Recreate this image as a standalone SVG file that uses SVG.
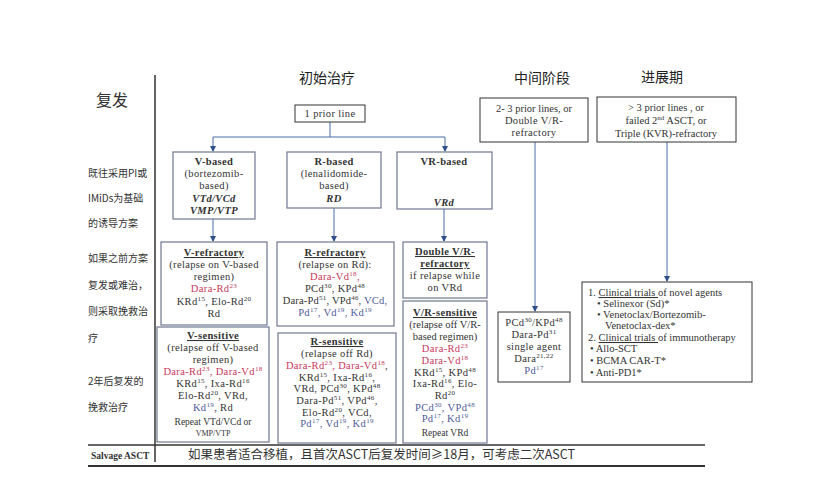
<svg xmlns="http://www.w3.org/2000/svg" width="836" height="485" viewBox="0 0 836 485">
<style>
.t{font-family:"Liberation Serif",serif;font-size:10.5px;fill:#333;text-anchor:middle;letter-spacing:0.35px}
.tl{font-family:"Liberation Serif",serif;font-size:10.5px;fill:#333}
.h{font-family:"Noto Sans CJK SC",sans-serif;font-size:14px;fill:#222;text-anchor:middle}
.lbl{font-family:"Noto Sans CJK SC",sans-serif;font-size:10px;fill:#333}
.b{font-weight:bold}
.u{font-weight:bold;text-decoration:underline}
.ul{text-decoration:underline}
.bi{font-weight:bold;font-style:italic}
.r{fill:#c8395c}
.bl{fill:#4f5b98}
.sup{font-size:7px;baseline-shift:super}
.box{fill:#fff;stroke:#6f7891;stroke-width:1.2}
.box2{fill:#fff;stroke:#333;stroke-width:1}
.conn{stroke:#4a6fa5;stroke-width:1;fill:none}
.frame{stroke:#333;fill:none}
</style>
<defs>
<marker id="arr" viewBox="0 0 6 6" refX="5" refY="3" markerWidth="6" markerHeight="6" markerUnits="userSpaceOnUse" orient="auto">
<path d="M0,0 L6,3 L0,6 z" fill="#2f4f8a"/>
</marker>
</defs>
<rect width="836" height="485" fill="#fff"/>

<g id="frame">
<line class="frame" x1="155" y1="75" x2="155" y2="462" stroke-width="1.5"/>
<line class="frame" x1="88" y1="445" x2="705" y2="445" stroke-width="1.5"/>
<line class="frame" x1="88" y1="466" x2="705" y2="466" stroke-width="2" stroke="#555"/>
</g>

<g id="row-labels">
<text class="lbl" x="96" y="106" style="font-size:16px">复发</text>
<text class="lbl" x="88" y="177">既往采用PI或</text>
<text class="lbl" x="88" y="202">IMiDs为基础</text>
<text class="lbl" x="88" y="227">的诱导方案</text>
<text class="lbl" x="88" y="262">如果之前方案</text>
<text class="lbl" x="88" y="289">复发或难治，</text>
<text class="lbl" x="88" y="315">则采取挽救治</text>
<text class="lbl" x="88" y="342">疗</text>
<text class="lbl" x="88" y="385">2年后复发的</text>
<text class="lbl" x="88" y="411">挽救治疗</text>
<text class="tl b" x="91" y="459" style="font-size:9.5px">Salvage ASCT</text>
</g>

<g id="headers">
<text class="h" x="327" y="83">初始治疗</text>
<text class="h" x="542" y="83">中间阶段</text>
<text class="h" x="662" y="82">进展期</text>
</g>

<g id="connectors">
<path class="conn" d="M330,122 V137 M213,137 H445"/>
<path class="conn" d="M213,137 V151" marker-end="url(#arr)"/>
<path class="conn" d="M445,137 V151" marker-end="url(#arr)"/>
<path class="conn" d="M213,219 V241" marker-end="url(#arr)"/>
<path class="conn" d="M334,208 V241" marker-end="url(#arr)"/>
<path class="conn" d="M444,209 V241" marker-end="url(#arr)"/>
<path class="conn" d="M535,142 V311" marker-end="url(#arr)"/>
<path class="conn" d="M667,142 V281" marker-end="url(#arr)"/>
</g>

<g id="n-prior1">
<rect class="box2" x="295" y="105" width="70" height="17"/>
<text class="t" x="330" y="117">1 prior  line</text>
</g>

<g id="n-vbased">
<rect class="box" x="173" y="152" width="82" height="67"/>
<text class="t b" x="214" y="165">V-based</text>
<text class="t" x="214" y="177">(bortezomib-</text>
<text class="t" x="214" y="189">based)</text>
<text class="t bi" x="214" y="202">VTd/VCd</text>
<text class="t bi" x="214" y="214">VMP/VTP</text>
</g>

<g id="n-rbased">
<rect class="box" x="287" y="152" width="94" height="56"/>
<text class="t b" x="334" y="165">R-based</text>
<text class="t" x="334" y="177">(lenalidomide-</text>
<text class="t" x="334" y="189">based)</text>
<text class="t bi" x="334" y="202">RD</text>
</g>

<g id="n-vrbased">
<rect class="box" x="397" y="152" width="95" height="57"/>
<text class="t b" x="444" y="165">VR-based</text>
<text class="t bi" x="444" y="206">VRd</text>
</g>

<g id="n-vrefractory">
<rect class="box" x="161" y="242" width="106" height="83"/>
<text class="t u" x="214" y="256">V-refractory</text>
<text class="t" x="214" y="268">(relapse on V-based</text>
<text class="t" x="214" y="280">regimen)</text>
<text class="t r" x="214" y="292">Dara-Rd<tspan class="sup">23</tspan></text>
<text class="t" x="214" y="305">KRd<tspan class="sup">15</tspan>, Elo-Rd<tspan class="sup">20</tspan></text>
<text class="t" x="214" y="317">Rd</text>
</g>

<g id="n-vsensitive">
<rect class="box" x="157" y="327" width="112" height="115"/>
<text class="t u" x="213" y="339">V-sensitive</text>
<text class="t" x="213" y="351">(relapse off V-based</text>
<text class="t" x="213" y="363">regimen)</text>
<text class="t" x="213" y="375"><tspan class="r">Dara-Rd<tspan class="sup">23</tspan>, Dara-Vd<tspan class="sup">18</tspan></tspan></text>
<text class="t" x="213" y="387">KRd<tspan class="sup">15</tspan>, Ixa-Rd<tspan class="sup">16</tspan></text>
<text class="t" x="213" y="399">Elo-Rd<tspan class="sup">20</tspan>, VRd,</text>
<text class="t" x="213" y="411"><tspan class="bl">Kd<tspan class="sup">19</tspan></tspan>, Rd</text>
<text class="t" x="213" y="425" style="font-size:9.5px;letter-spacing:0">Repeat VTd/VCd or</text>
<text class="t" x="213" y="436" style="font-size:8px;letter-spacing:0">VMP/VTP</text>
</g>

<g id="n-rrefractory">
<rect class="box" x="277" y="242" width="117" height="84"/>
<text class="t u" x="335" y="256">R-refractory</text>
<text class="t" x="335" y="268">(relapse on Rd):</text>
<text class="t r" x="335" y="280">Dara-Vd<tspan class="sup">18</tspan>,</text>
<text class="t" x="335" y="292">PCd<tspan class="sup">30</tspan>, KPd<tspan class="sup">48</tspan></text>
<text class="t" x="335" y="304" style="letter-spacing:0.2px">Dara-Pd<tspan class="sup">51</tspan>, VPd<tspan class="sup">46</tspan>, <tspan class="bl">VCd,</tspan></text>
<text class="t bl" x="335" y="316">Pd<tspan class="sup">17</tspan>, Vd<tspan class="sup">19</tspan>, Kd<tspan class="sup">19</tspan></text>
</g>

<g id="n-rsensitive">
<rect class="box" x="278" y="333" width="118" height="110"/>
<text class="t u" x="337" y="345">R-sensitive</text>
<text class="t" x="337" y="357">(relapse off Rd)</text>
<text class="t" x="337" y="369"><tspan class="r">Dara-Rd<tspan class="sup">23</tspan>, Dara-Vd<tspan class="sup">18</tspan></tspan>,</text>
<text class="t" x="337" y="381">KRd<tspan class="sup">15</tspan>, Ixa-Rd<tspan class="sup">16</tspan>,</text>
<text class="t" x="337" y="392">VRd, PCd<tspan class="sup">30</tspan>, KPd<tspan class="sup">48</tspan></text>
<text class="t" x="337" y="404">Dara-Pd<tspan class="sup">51</tspan>, VPd<tspan class="sup">46</tspan>,</text>
<text class="t" x="337" y="416">Elo-Rd<tspan class="sup">20</tspan>, VCd,</text>
<text class="t bl" x="337" y="427">Pd<tspan class="sup">17</tspan>, Vd<tspan class="sup">19</tspan>, Kd<tspan class="sup">19</tspan></text>
</g>

<g id="n-vrrefractory">
<rect class="box" x="403" y="242" width="84" height="56"/>
<text class="t u" x="445" y="255">Double V/R-</text>
<text class="t u" x="445" y="267">refractory</text>
<text class="t" x="445" y="279">if relapse while</text>
<text class="t" x="445" y="291">on VRd</text>
</g>

<g id="n-vrsensitive">
<rect class="box" x="403" y="301" width="84" height="142"/>
<text class="t u" x="445" y="316">V/R-sensitive</text>
<text class="t" x="445" y="328" style="letter-spacing:0">(relapse off V/R-</text>
<text class="t" x="445" y="340" style="letter-spacing:0">based regimen)</text>
<text class="t r" x="445" y="352">Dara-Rd<tspan class="sup">23</tspan></text>
<text class="t r" x="445" y="364">Dara-Vd<tspan class="sup">18</tspan></text>
<text class="t" x="445" y="376">KRd<tspan class="sup">15</tspan>, KPd<tspan class="sup">48</tspan></text>
<text class="t" x="445" y="387">Ixa-Rd<tspan class="sup">16</tspan>, Elo-</text>
<text class="t" x="445" y="399">Rd<tspan class="sup">20</tspan></text>
<text class="t bl" x="445" y="411">PCd<tspan class="sup">30</tspan>, VPd<tspan class="sup">48</tspan></text>
<text class="t bl" x="445" y="422">Pd<tspan class="sup">17</tspan>, Kd<tspan class="sup">19</tspan></text>
<text class="t" x="445" y="436" style="font-size:9.5px;letter-spacing:0">Repeat VRd</text>
</g>

<g id="n-mid-top">
<rect class="box2" x="480" y="98" width="108" height="44"/>
<text class="t" x="534" y="112" style="letter-spacing:0">2- 3 prior lines, or</text>
<text class="t" x="534" y="124">Double V/R-</text>
<text class="t" x="534" y="136">refractory</text>
</g>

<g id="n-mid-bottom">
<rect class="box2" x="498" y="312" width="72" height="70"/>
<text class="t" x="534" y="326">PCd<tspan class="sup">30</tspan>/KPd<tspan class="sup">48</tspan></text>
<text class="t" x="534" y="338">Dara-Pd<tspan class="sup">31</tspan></text>
<text class="t" x="534" y="350">single agent</text>
<text class="t" x="534" y="362">Dara<tspan class="sup">21,22</tspan></text>
<text class="t bl" x="534" y="374">Pd<tspan class="sup">17</tspan></text>
</g>

<g id="n-right-top">
<rect class="box2" x="597" y="97" width="139" height="45"/>
<text class="t" x="666" y="111" style="letter-spacing:0">&gt; 3 prior lines , or</text>
<text class="t" x="666" y="124" style="letter-spacing:0">failed 2<tspan class="sup">nd</tspan> ASCT, or</text>
<text class="t" x="666" y="137" style="letter-spacing:0">Triple (KVR)-refractory</text>
</g>

<g id="n-right-bottom">
<rect class="box2" x="582" y="282" width="170" height="100"/>
<text class="tl" x="588" y="296">1. <tspan class="ul">Clinical trials </tspan>of novel agents</text>
<text class="tl" x="597" y="307">•  Selinexor (Sd)*</text>
<text class="tl" x="597" y="318">•  Venetoclax/Bortezomib-</text>
<text class="tl" x="605" y="329">Venetoclax-dex*</text>
<text class="tl" x="588" y="341">2. <tspan class="ul">Clinical trials </tspan>of immunotherapy</text>
<text class="tl" x="590" y="352">•  Allo-SCT</text>
<text class="tl" x="590" y="364">•  BCMA CAR-T*</text>
<text class="tl" x="590" y="376">•  Anti-PD1*</text>
</g>

<g id="n-salvage">
<text class="lbl" x="188" y="459" style="font-size:12.5px">如果患者适合移植，且首次ASCT后复发时间≥18月，可考虑二次ASCT</text>
</g>
</svg>
